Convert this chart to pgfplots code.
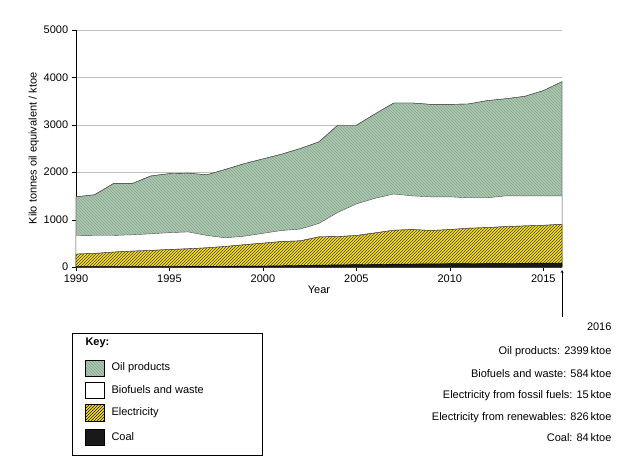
\documentclass[border=0pt]{standalone}
\usepackage{pgfplots}
\pgfplotsset{compat=1.18}
\usetikzlibrary{patterns}
\usepackage{fontspec}
\setmainfont{Liberation Sans}
\definecolor{oilg}{RGB}{163,207,170}
\definecolor{elecy}{RGB}{255,230,0}
\begin{document}
\begin{tikzpicture}[font=\fontsize{11}{13}\selectfont]
\path (0pt,0pt) rectangle (630pt,467pt);
\begin{axis}[at={(76pt,200pt)},anchor=south west,scale only axis,width=486pt,height=237pt,
 xmin=1990,xmax=2016,ymin=0,ymax=5000,axis lines=left,axis line style={-},
 xtick={1990,1995,...,2015},ytick={0,1000,...,5000},
 ymajorgrids,grid style={gray!50},tick style={black},tick align=outside,
 xticklabel style={/pgf/number format/1000 sep={}},
 yticklabel style={/pgf/number format/1000 sep={}},
 /pgf/number format/assume math mode=true,
 ticklabel style={font=\fontsize{11}{13}\selectfont},
 xlabel={Year},ylabel={Kilo tonnes oil equivalent / ktoe},
 label style={font=\fontsize{11}{13}\selectfont},
 xlabel style={yshift=4pt},ylabel style={yshift=-2pt},
 clip=false]
\addplot[draw=black!70,fill=oilg,postaction={pattern=north west lines,pattern color=black!40}] coordinates {
(1990,1480)(1991,1525)(1992,1760)(1993,1760)(1994,1920)(1995,1970)(1996,1980)(1997,1945)(1998,2060)(1999,2180)(2000,2280)(2001,2380)(2002,2500)(2003,2640)(2004,2990)(2005,2990)(2006,3230)(2007,3460)(2008,3460)(2009,3430)(2010,3430)(2011,3440)(2012,3510)(2013,3550)(2014,3600)(2015,3720)(2016,3910)(2016,0)(1990,0)} \closedcycle;
\addplot[draw=black!70,fill=white] coordinates {
(1990,670)(1991,665)(1992,665)(1993,680)(1994,700)(1995,725)(1996,740)(1997,665)(1998,615)(1999,650)(2000,710)(2001,770)(2002,800)(2003,920)(2004,1150)(2005,1330)(2006,1450)(2007,1540)(2008,1500)(2009,1480)(2010,1480)(2011,1460)(2012,1460)(2013,1500)(2014,1500)(2015,1500)(2016,1500)(2016,0)(1990,0)} \closedcycle;
\addplot[draw=black!70,fill=elecy,postaction={pattern=north east lines,pattern color=black!80}] coordinates {
(1990,273)(1991,287)(1992,315)(1993,335)(1994,350)(1995,370)(1996,385)(1997,405)(1998,434)(1999,470)(2000,503)(2001,538)(2002,552)(2003,636)(2004,643)(2005,664)(2006,720)(2007,776)(2008,790)(2009,770)(2010,790)(2011,818)(2012,832)(2013,853)(2014,867)(2015,880)(2016,902)(2016,0)(1990,0)} \closedcycle;
\addplot[draw=black,fill=black!90] coordinates {
(1990,10)(1995,10)(2000,20)(2003,40)(2007,60)(2010,70)(2013,78)(2016,84)(2016,0)(1990,0)} \closedcycle;
\end{axis}
\begin{scope}[x=1pt,y=1pt]
\draw[->,>=stealth] (562,150) -- (562,197);
\node[anchor=east] at (615,140) {2016};
\node[anchor=east] at (615,115) {Oil products: 2399\,ktoe};
\node[anchor=east] at (615,93) {Biofuels and waste: 584\,ktoe};
\node[anchor=east] at (615,71) {Electricity from fossil fuels: 15\,ktoe};
\node[anchor=east] at (615,49) {Electricity from renewables: 826\,ktoe};
\node[anchor=east] at (615,29) {Coal: 84\,ktoe};
\draw (72,12) rectangle (262,134);
\node[anchor=west,font=\fontsize{11}{13}\selectfont\bfseries] at (82,124) {Key:};
\fill[oilg] (85,91) rectangle (104,107);
\fill[pattern=north west lines,pattern color=black!40] (85,91) rectangle (104,107);
\draw (85,91) rectangle (104,107);
\node[anchor=west] at (108,99) {Oil products};
\draw[fill=white] (85,69) rectangle (104,85);
\node[anchor=west] at (108,77) {Biofuels and waste};
\fill[elecy] (85,46) rectangle (104,63);
\fill[pattern=north east lines] (85,46) rectangle (104,63);
\draw (85,46) rectangle (104,63);
\node[anchor=west] at (108,54) {Electricity};
\draw[fill=black!90] (85,22) rectangle (104,38);
\node[anchor=west] at (108,30) {Coal};
\end{scope}
\end{tikzpicture}
\end{document}
